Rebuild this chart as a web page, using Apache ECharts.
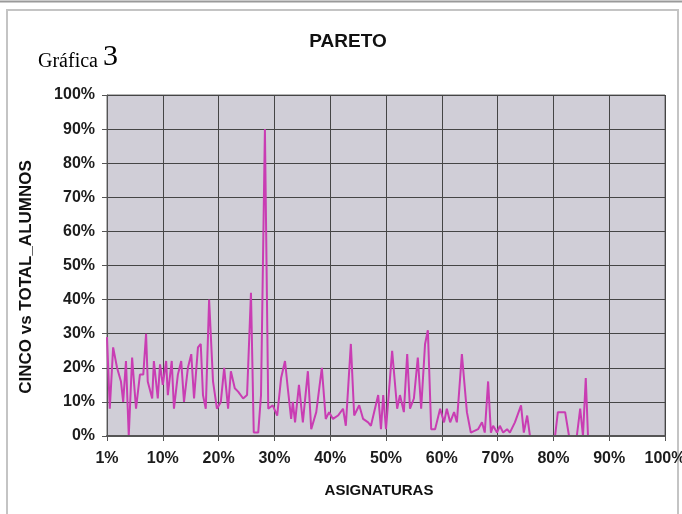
<!DOCTYPE html>
<html>
<head>
<meta charset="utf-8">
<script src="https://cdn.jsdelivr.net/npm/echarts@6/dist/echarts.min.js"></script>
<style>
  html, body { margin: 0; padding: 0; background: #ffffff; }
  #chart { width: 682px; height: 514px; }
</style>
</head>
<body>
<div id="chart"></div>
<script>
// Position of each subject along the cumulative axis (%)
const asignaturaPct = [
  0.0, 0.5, 1.1, 1.8, 2.5, 2.9, 3.4, 3.9, 4.5, 5.2, 5.9, 6.5, 7.0, 7.3, 8.1, 8.4, 9.1, 9.5,
  10.0, 10.6, 10.9, 11.6, 12.0, 12.7, 13.3, 13.8, 14.5, 15.1, 15.6, 16.3, 16.8, 17.2, 17.7, 18.3, 19.0, 19.7,
  20.4, 21.0, 21.7, 22.2, 22.9, 23.5, 24.4, 25.1, 25.8, 26.3, 27.1, 27.6, 28.3, 28.9, 29.7,
  30.5, 31.2, 31.9, 32.4, 33.0, 33.3, 33.7, 34.4, 35.1, 36.0, 36.6, 37.5, 38.5, 39.2, 39.8,
  40.5, 41.4, 42.3, 42.8, 43.7, 44.3, 45.2, 45.9, 46.8, 47.3, 48.6, 49.1, 49.5,
  50.0, 51.1, 52.0, 52.5, 53.2, 53.8, 54.3, 55.0, 55.7, 56.3, 57.0, 57.5, 58.1, 58.8, 59.7,
  60.4, 60.9, 61.5, 62.2, 62.7, 63.6, 64.5, 65.2, 66.5, 67.2, 67.7, 68.3, 68.8, 69.2, 69.9,
  70.4, 71.0, 71.7, 72.2, 73.1, 74.2, 74.7, 75.3, 75.8, 78.1,
  80.3, 80.8, 82.1, 82.8, 84.2, 84.8, 85.3, 85.8, 86.2
];

// CINCO vs TOTAL_ALUMNOS (%)
const cincoPct = [
  29, 8, 26, 20, 16, 10, 22, 0, 23, 8, 18, 18, 30, 16, 11, 22, 11, 21,
  15, 22, 12, 22, 8, 18, 22, 10, 20, 24, 11, 26, 27, 12, 8, 40, 16, 8,
  10, 20, 8, 19, 14, 13, 11, 12, 42, 1, 1, 12, 90, 8, 9,
  6, 17, 22, 14, 5, 10, 4, 15, 4, 19, 2, 7, 20, 5, 7,
  5, 6, 8, 3, 27, 6, 9, 5, 4, 3, 12, 2, 12,
  2, 25, 8, 12, 7, 24, 8, 11, 23, 8, 27, 31, 2, 2, 8,
  4, 8, 4, 7, 4, 24, 7, 1, 2, 4, 1, 16, 1, 3, 1,
  3, 1, 2, 1, 4, 9, 1, 6, 0, 0,
  0, 7, 7, 0, 0, 8, 0, 17, 0
];

const xTickLabels = ['1%', '10%', '20%', '30%', '40%', '50%', '60%', '70%', '80%', '90%', '100%'];
const yTickLabels = ['0%', '10%', '20%', '30%', '40%', '50%', '60%', '70%', '80%', '90%', '100%'];

const chart = echarts.init(document.getElementById('chart'), null, { renderer: 'canvas' });

const labelFont = {
  fontFamily: 'Liberation Sans, Arial, sans-serif',
  fontWeight: 'bold',
  fontSize: 16,
  color: '#1c1c1c'
};

chart.setOption({
  animation: false,
  backgroundColor: '#ffffff',
  title: {
    text: 'PARETO',
    left: 343,
    top: 27,
    textAlign: 'center',
    textStyle: {
      fontFamily: 'Liberation Sans, Arial, sans-serif',
      fontWeight: 'bold',
      fontSize: 19,
      color: '#111111'
    }
  },
  graphic: [
    { type: 'line', shape: { x1: 0, y1: 1.5, x2: 682, y2: 1.5 }, style: { stroke: '#9a9a9a', lineWidth: 2 }, silent: true },
    { type: 'rect', shape: { x: 7, y: 10, width: 671, height: 530 }, style: { fill: 'none', stroke: '#c4c4c4', lineWidth: 2 }, silent: true },
    {
      type: 'text', left: 38, top: 42,
      style: {
        text: '{a|Gráfica }{b|3}',
        rich: {
          a: { fontFamily: 'Liberation Serif, Times New Roman, serif', fontSize: 20, color: '#222222', verticalAlign: 'bottom', lineHeight: 28 },
          b: { fontFamily: 'Liberation Serif, Times New Roman, serif', fontSize: 30, color: '#222222', verticalAlign: 'bottom', lineHeight: 28 }
        }
      }
    },
    {
      // vertical axis title
      type: 'text', x: 26, y: 277, rotation: Math.PI / 2,
      style: {
        text: 'CINCO vs TOTAL_ALUMNOS',
        fontFamily: 'Liberation Sans, Arial, sans-serif',
        fontWeight: 'bold',
        fontSize: 17,
        fill: '#111111',
        align: 'center',
        verticalAlign: 'middle'
      },
      silent: true
    }
  ],
  grid: {
    left: 107,
    right: 17,
    top: 95,
    bottom: 78,
    outerBoundsMode: 'none',
    containLabel: false,
    show: true,
    backgroundColor: '#d0ced7',
    borderColor: '#6a6a6a',
    borderWidth: 1
  },
  xAxis: [
    {
      type: 'value',
      min: 0,
      max: 100,
      interval: 10,
      name: 'ASIGNATURAS',
      nameLocation: 'middle',
      nameGap: 47,
      nameTextStyle: Object.assign({}, labelFont, { fontSize: 15, color: '#111111', padding: [0, 14, 0, 0] }),
      axisLine: { show: true, lineStyle: { color: '#555555', width: 1 } },
      axisTick: { show: true, inside: false, length: 5, lineStyle: { color: '#555555' } },
      axisLabel: Object.assign({}, labelFont, {
        margin: 15,
        formatter: v => xTickLabels[Math.round(v / 10)]
      }),
      splitLine: { show: true, lineStyle: { color: '#454545', width: 1 } }
    },
    {
      // redraws the baseline above the series so zero values sit under it
      type: 'value',
      min: 0,
      max: 100,
      position: 'bottom',
      z: 5,
      axisLine: { show: true, lineStyle: { color: '#555555', width: 2 } },
      axisTick: { show: false },
      axisLabel: { show: false },
      splitLine: { show: false }
    }
  ],
  yAxis: {
    type: 'value',
    min: 0,
    max: 100,
    interval: 10,
    axisLine: { show: true, lineStyle: { color: '#555555', width: 1 } },
    axisTick: { show: true, inside: false, length: 5, lineStyle: { color: '#555555' } },
    axisLabel: Object.assign({}, labelFont, {
      margin: 12,
      formatter: v => yTickLabels[Math.round(v / 10)]
    }),
    splitLine: { show: true, lineStyle: { color: '#454545', width: 1 } }
  },
  series: [
    {
      type: 'line',
      xAxisIndex: 0,
      data: asignaturaPct.map((x, i) => [x, cincoPct[i]]),
      showSymbol: false,
      symbol: 'none',
      lineStyle: { color: '#c93db3', width: 2 },
      z: 3
    }
  ]
});
</script>
</body>
</html>
